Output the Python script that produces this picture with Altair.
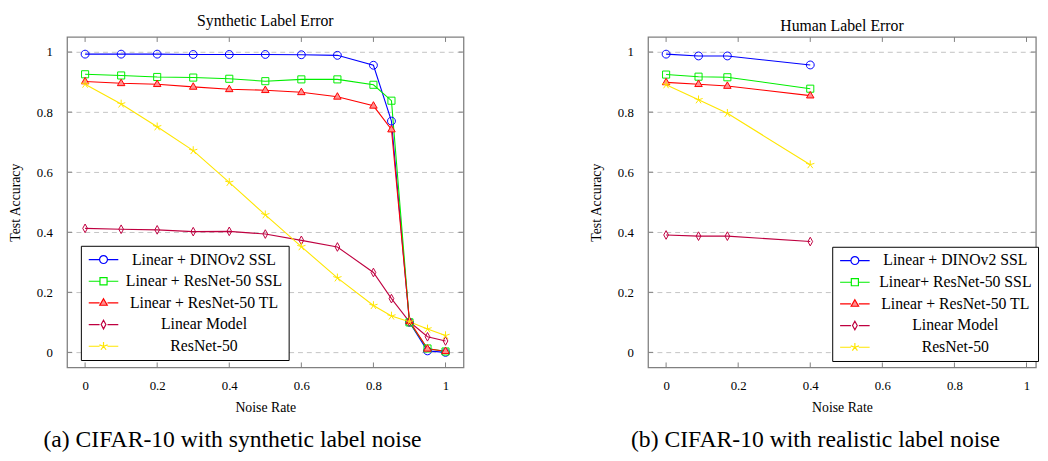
import altair as alt
import pandas as pd

FONT = "Liberation Serif"
FRAME = "#808080"

# ---------------- data ----------------
series_a = ["Linear + DINOv2 SSL", "Linear + ResNet-50 SSL", "Linear + ResNet-50 TL",
            "Linear Model", "ResNet-50"]
series_b = ["Linear + DINOv2 SSL", "Linear+ ResNet-50 SSL", "Linear + ResNet-50 TL",
            "Linear Model", "ResNet-50"]

noise_a = [0.0, 0.1, 0.2, 0.3, 0.4, 0.5, 0.6, 0.7, 0.8, 0.85, 0.9, 0.95, 1.0]
dino_a = [0.993, 0.993, 0.993, 0.992, 0.992, 0.992, 0.991, 0.989, 0.956, 0.770, 0.100, 0.005, 0.000]
ssl_a = [0.926, 0.922, 0.917, 0.915, 0.911, 0.903, 0.909, 0.909, 0.891, 0.838, 0.100, 0.013, 0.003]
tl_a = [0.902, 0.896, 0.893, 0.884, 0.876, 0.873, 0.866, 0.851, 0.821, 0.742, 0.104, 0.012, 0.004]
lin_a = [0.413, 0.410, 0.408, 0.402, 0.403, 0.394, 0.373, 0.351, 0.266, 0.179, 0.102, 0.052, 0.038]
res_a = [0.893, 0.827, 0.751, 0.672, 0.566, 0.458, 0.352, 0.248, 0.156, 0.121, 0.102, 0.078, 0.056]

noise_b = [0.0, 0.09, 0.17, 0.4]
dino_b = [0.993, 0.987, 0.987, 0.957]
ssl_b = [0.925, 0.918, 0.916, 0.878]
tl_b = [0.899, 0.893, 0.887, 0.855]
lin_b = [0.391, 0.387, 0.387, 0.369]
res_b = [0.891, 0.841, 0.796, 0.625]

titles = ["Synthetic Label Error", "Human Label Error"]
captions = ["(a) CIFAR-10 with synthetic label noise", "(b) CIFAR-10 with realistic label noise"]
tick_values = [0, 0.2, 0.4, 0.6, 0.8, 1]

# ---------------- style ----------------
colors = ["#0000ff", "#00ee00", "#ff0000", "#bf0040", "#ffe600"]
fills = ["transparent", "transparent", "#ff9090", "transparent", "transparent"]
circle = "M1,0A1,1 0 1,1 -1,0A1,1 0 1,1 1,0Z"
square = "M-0.9,-0.9L0.9,-0.9L0.9,0.9L-0.9,0.9Z"
triangle = "M0,-1.05L0.95,0.6L-0.95,0.6Z"
diamond = "M0,-1.1L0.6,0L0,1.1L-0.6,0Z"
star = ("M0,0L0,-1.1M0,0L1.05,-0.34M0,0L0.65,0.89M0,0L-0.65,0.89M0,0L-1.05,-0.34")
shapes = [circle, square, triangle, diamond, star]
seg = "M-3.75,0L-1,0M1,0L3.75,0"
legend_shapes = [seg + s for s in shapes]

PX = 366.0  # pixels per unit on x
PY = 305.0  # pixels per unit on y
Y_DOM = [-0.05, 1.05]
H = PY * (Y_DOM[1] - Y_DOM[0])


def long_df(noise, cols, names):
    rows = []
    for name, vals in zip(names, cols):
        for n, v in zip(noise, vals):
            rows.append({"noise": n, "acc": v, "series": name})
    return pd.DataFrame(rows)


def panel(df, names, x_dom, title, caption, title_offset, legend_xy, cap_x):
    W = PX * (x_dom[1] - x_dom[0])
    xs = alt.Scale(domain=x_dom, nice=False, zero=False)
    ys = alt.Scale(domain=Y_DOM, nice=False, zero=False)
    xaxis = alt.Axis(values=tick_values, format="~g", grid=False, ticks=False, domain=False,
                     title="Noise Rate", labelPadding=12, titlePadding=9)
    yaxis = alt.Axis(values=tick_values, format="~g", grid=True, ticks=False, domain=False,
                     title="Test Accuracy", labelPadding=15, titlePadding=14,
                     gridDash=[5, 4], gridColor="#b4b4b4", gridWidth=0.8)
    col = alt.Color("series:N", scale=alt.Scale(domain=names, range=colors), legend=None)

    lines = alt.Chart(df).mark_line(strokeWidth=1.1).encode(
        x=alt.X("noise:Q", scale=xs, axis=xaxis),
        y=alt.Y("acc:Q", scale=ys, axis=yaxis),
        color=col,
        detail="series:N",
    )
    pts = alt.Chart(df).mark_point(size=64, strokeWidth=1.0, filled=False, opacity=1).encode(
        x="noise:Q",
        y="acc:Q",
        color=col,
        shape=alt.Shape("series:N", scale=alt.Scale(domain=names, range=shapes), legend=None),
        fill=alt.Fill("series:N", scale=alt.Scale(domain=names, range=fills), legend=None),
    )

    # inward tick marks on the frame, positioned from the tick value list through the scales
    tdf = pd.DataFrame({"t": tick_values})
    xt_b = alt.Chart(tdf).mark_rule(color=FRAME, strokeWidth=1).encode(
        x=alt.X("t:Q", scale=xs), y=alt.value(H - 5), y2=alt.value(H))
    xt_t = alt.Chart(tdf).mark_rule(color=FRAME, strokeWidth=1).encode(
        x=alt.X("t:Q", scale=xs), y=alt.value(0), y2=alt.value(5))
    yt_l = alt.Chart(tdf).mark_rule(color=FRAME, strokeWidth=1).encode(
        y=alt.Y("t:Q", scale=ys), x=alt.value(0), x2=alt.value(5))
    yt_r = alt.Chart(tdf).mark_rule(color=FRAME, strokeWidth=1).encode(
        y=alt.Y("t:Q", scale=ys), x=alt.value(W - 5), x2=alt.value(W))

    # legend-only layer (invisible points, kept inside the plot so they add no bounds)
    leg_kw = dict(title=None, orient="none", legendX=legend_xy[0], legendY=legend_xy[1],
                  symbolOpacity=1)
    ldf = pd.DataFrame({"series": names})
    leg = alt.Chart(ldf).mark_point(size=64, filled=False, opacity=0, strokeWidth=1.2).encode(
        x=alt.value(W / 2), y=alt.value(H / 2),
        color=alt.Color("series:N", scale=alt.Scale(domain=names, range=colors),
                        legend=alt.Legend(**leg_kw)),
        shape=alt.Shape("series:N", scale=alt.Scale(domain=names, range=legend_shapes),
                        legend=alt.Legend(**leg_kw)),
        fill=alt.Fill("series:N", scale=alt.Scale(domain=names, range=fills),
                      legend=alt.Legend(**leg_kw)),
    )

    cdf = pd.DataFrame({"c": [caption]})
    cap = alt.Chart(cdf).mark_text(font=FONT, fontSize=24, baseline="middle", align="center",
                                   color="black").encode(
        text="c:N", x=alt.value(cap_x), y=alt.value(H + 74))

    return alt.layer(lines, pts, xt_b, xt_t, yt_l, yt_r, leg, cap).resolve_scale(
        color="independent", shape="independent", fill="independent"
    ).properties(
        width=W, height=H,
        title=alt.TitleParams(title, font=FONT, fontSize=16, fontWeight="normal",
                              anchor="middle", offset=title_offset, color="black"),
    )


df_a = long_df(noise_a, [dino_a, ssl_a, tl_a, lin_a, res_a], series_a)
df_b = long_df(noise_b, [dino_b, ssl_b, tl_b, lin_b, res_b], series_b)

left = panel(df_a, series_a, [-0.05, 1.05], titles[0], captions[0], 8, (14, 212), 168)
right = panel(df_b, series_b, [-0.05, 1.026], titles[1], captions[1], 3, (187, 213), 170)

chart = alt.hconcat(left, right, spacing=126).resolve_scale(
    color="independent", shape="independent", fill="independent"
).properties(
    padding={"left": 0, "top": 0, "right": 0, "bottom": 0}
).configure_view(
    stroke=FRAME, strokeWidth=1.3
).configure_axis(
    labelFont=FONT, titleFont=FONT, labelFontSize=13, titleFontSize=14,
    labelColor="black", titleColor="black", titleFontWeight="normal",
).configure_legend(
    labelFont=FONT, labelFontSize=16, labelColor="black", labelAlign="center",
    labelOffset=94, symbolOffset=9, symbolSize=64, symbolStrokeWidth=1.2,
    strokeColor="black", fillColor="white", padding=6, rowPadding=6, labelLimit=400,
    cornerRadius=0,
)

chart.save("out.html", embed_options={"renderer": "svg", "actions": False})
